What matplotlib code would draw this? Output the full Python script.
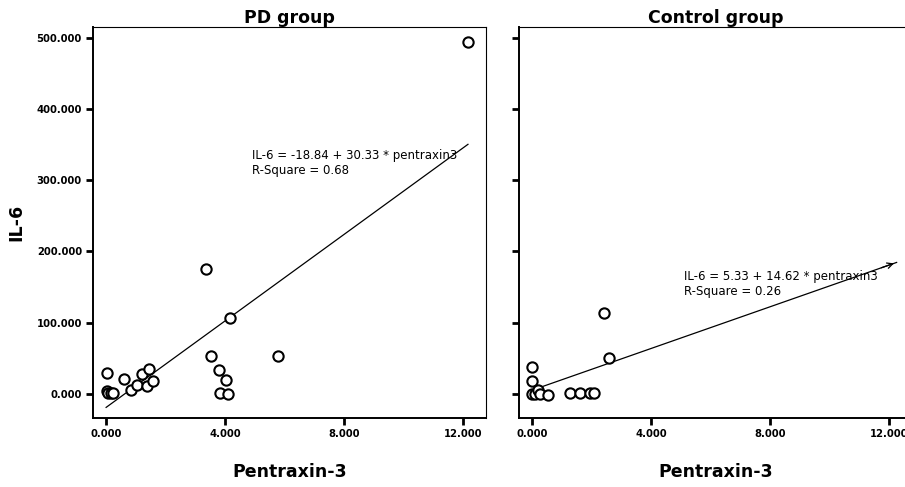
#!/usr/bin/env python3
"""
IL-6 vs Pentraxin-3 scatter (PD group / Control group) with linear fit
"""
import matplotlib
matplotlib.use('Agg')
import matplotlib.pyplot as plt
from matplotlib.ticker import FuncFormatter
import numpy as np

plt.rcParams['font.family'] = ['DejaVu Sans']

# PD group (pentraxin-3, IL-6)
pd_ptx = [0.04, 0.04, 0.07, 0.17, 0.24, 0.61, 0.84, 1.03, 1.21, 1.38, 1.45, 1.58,
          3.35, 3.52, 3.78, 3.82, 4.02, 4.09, 4.17, 5.79, 12.17]
pd_il6 = [29, 4, 1, 1, 1, 21.5, 5.6, 12.6, 28.5, 11, 34.7, 18.7,
          176, 53.8, 34.2, 1.9, 19.2, 0, 106, 53.8, 494]
pd_coef = (-18.84, 30.33)
pd_r2 = 0.68
pd_fit_x = (0.0, 12.17)

# Control group
ctl_ptx = [0.0, 0.0, 0.0, 0.1, 0.19, 0.25, 0.55, 1.28, 1.62, 1.96, 2.07, 2.41, 2.59]
ctl_il6 = [38.5, 18, 0, 0, 5, 0, -1, 1, 1, 1, 1, 113, 51]
ctl_coef = (5.33, 14.62)
ctl_r2 = 0.26
ctl_fit_x = (0.0, 12.26)

x_ticks = [0, 4, 8, 12]
y_ticks = [0, 100, 200, 300, 400, 500]

fig = plt.figure(figsize=(9.05, 4.87), dpi=100)
ax1 = fig.add_axes([0.1028, 0.1417, 0.434, 0.803])
ax2 = fig.add_axes([0.5735, 0.1417, 0.434, 0.803])

fmt = FuncFormatter(lambda v, p: f'{v:.3f}')


def draw_panel(ax, xs, ys, coef, r2, fit_x, title, txt_pos, arrow=False):
    ax.scatter(xs, ys, s=55, facecolors='white', edgecolors='black',
               linewidths=1.5, zorder=3)
    fx = np.array(fit_x)
    fy = coef[0] + coef[1] * fx
    ax.plot(fx, fy, color='black', lw=0.9, zorder=2)
    if arrow:
        # small arrowhead at the end of the line, as in the original
        ax.annotate('', xy=(fx[1], fy[1]),
                    xytext=(fx[1] - 0.6, fy[1] - 0.6 * coef[1]),
                    arrowprops=dict(arrowstyle='->', lw=0.9, color='black'))
    eq = f'IL-6 = {coef[0]:.2f} + {coef[1]:.2f} * pentraxin3'
    ax.text(txt_pos[0], txt_pos[1],
            eq + f'\nR-Square = {r2:.2f}',
            fontsize=8.5, ha='left', va='center', linespacing=1.25,
            zorder=4)
    ax.set_xlim(-0.44, 12.77)
    ax.set_ylim(-33.7, 515)
    ax.set_xticks(x_ticks)
    ax.set_yticks(y_ticks)
    ax.xaxis.set_major_formatter(fmt)
    ax.yaxis.set_major_formatter(fmt)
    ax.tick_params(direction='out', length=5, width=2, labelsize=7.2, pad=3)
    for lab in ax.get_xticklabels() + ax.get_yticklabels():
        lab.set_fontweight('bold')
    ax.spines['left'].set_linewidth(1.4)
    ax.spines['bottom'].set_linewidth(1.4)
    ax.spines['top'].set_linewidth(0.8)
    ax.spines['right'].set_linewidth(0.8)
    ax.set_title(title, fontsize=12.5, fontweight='bold', pad=1)
    ax.set_xlabel('Pentraxin-3', fontsize=12.5, fontweight='bold', labelpad=17)


draw_panel(ax1, pd_ptx, pd_il6, pd_coef, pd_r2, pd_fit_x, 'PD group', (4.9, 324))
draw_panel(ax2, ctl_ptx, ctl_il6, ctl_coef, ctl_r2, ctl_fit_x, 'Control group',
           (5.1, 154), arrow=True)
ax2.tick_params(labelleft=False)
ax1.set_ylabel('IL-6', fontsize=12.5, fontweight='bold', labelpad=8)

fig.savefig('out.png', dpi=100)
